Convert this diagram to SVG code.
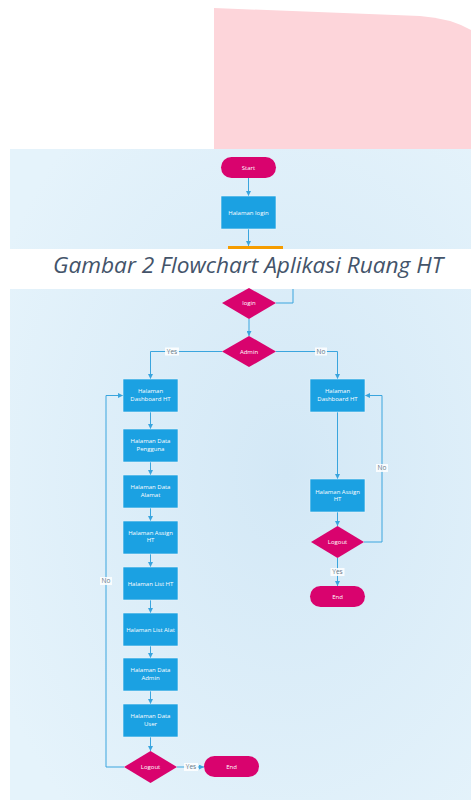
<svg xmlns="http://www.w3.org/2000/svg" width="471" height="800" viewBox="0 0 471 800">
<defs>
<radialGradient id="bg" cx="0.6" cy="0.5" r="0.7">
<stop offset="0" stop-color="#d3e8f6"/>
<stop offset="1" stop-color="#e5f3fb"/>
</radialGradient>
<marker id="ah" viewBox="0 0 10 10" refX="10" refY="5" markerWidth="5" markerHeight="5" orient="auto" markerUnits="userSpaceOnUse">
<path d="M0,0 L10,5 L0,10 z" fill="#3aa5de"/>
</marker>
<style>
.term{fill:#d9036e}
.proc{fill:#1ba1e2;stroke:#e9f5fc;stroke-width:0.6}
.dec{fill:#d9036e}
.t{font-family:"Open Sans","Liberation Sans",sans-serif;font-size:6px;fill:#ffffff;text-anchor:middle}
.c{fill:none;stroke:#3aa5de;stroke-width:1}
.lb{fill:#ffffff;opacity:0.85}
.lt{font-family:"Open Sans","Liberation Sans",sans-serif;font-size:6.5px;fill:#6a7a88;text-anchor:middle}
.cap{font-family:"Open Sans","Liberation Sans",sans-serif;font-style:italic;font-size:21px;fill:#44546a}
</style>
</defs>
<rect width="471" height="800" fill="#ffffff"/>
<path d="M214,8 L420,16 Q450,18 471,30 L471,149 L214,149 z" fill="#fdd5da"/>
<rect x="10" y="149" width="461" height="651" fill="url(#bg)"/>

<g id="connectors">
<path class="c" d="M248.5,178 V196" marker-end="url(#ah)"/>
<path class="c" d="M248.5,229 V246" marker-end="url(#ah)"/>
<path class="c" d="M293,289 V303 H276"/>
<path class="c" d="M249,319 V336" marker-end="url(#ah)"/>
<path class="c" d="M222,351.5 H150.5 V379" marker-end="url(#ah)"/>
<path class="c" d="M276,351.5 H337.5 V379" marker-end="url(#ah)"/>
<path class="c" d="M150.5,412 V429" marker-end="url(#ah)"/>
<path class="c" d="M150.5,462 V475" marker-end="url(#ah)"/>
<path class="c" d="M150.5,508 V521" marker-end="url(#ah)"/>
<path class="c" d="M150.5,554 V567" marker-end="url(#ah)"/>
<path class="c" d="M150.5,600 V613" marker-end="url(#ah)"/>
<path class="c" d="M150.5,646 V658" marker-end="url(#ah)"/>
<path class="c" d="M150.5,691 V704" marker-end="url(#ah)"/>
<path class="c" d="M150.5,737 V751" marker-end="url(#ah)"/>
<path class="c" d="M177,767 H204" marker-end="url(#ah)"/>
<path class="c" d="M124,767 H106 V395.5 H123" marker-end="url(#ah)"/>
<path class="c" d="M337.5,412 V479" marker-end="url(#ah)"/>
<path class="c" d="M337.5,512 V526" marker-end="url(#ah)"/>
<path class="c" d="M337.5,558 V586" marker-end="url(#ah)"/>
<path class="c" d="M364,542 H382 V395.5 H365" marker-end="url(#ah)"/>
<rect class="lb" x="165" y="347.5" width="14" height="8"/>
<text class="lt" x="172" y="353.8">Yes</text>
<rect class="lb" x="315" y="347.5" width="12" height="8"/>
<text class="lt" x="321" y="353.8">No</text>
<rect class="lb" x="100" y="577" width="12" height="8"/>
<text class="lt" x="106" y="583.3">No</text>
<rect class="lb" x="184" y="763" width="14" height="8"/>
<text class="lt" x="191" y="769.3">Yes</text>
<rect class="lb" x="376" y="464" width="12" height="8"/>
<text class="lt" x="382" y="470.3">No</text>
<rect class="lb" x="330.5" y="568" width="14" height="8"/>
<text class="lt" x="337.5" y="574.3">Yes</text>
</g>

<g id="start"><rect class="term" x="221" y="157" width="55" height="21" rx="10.5"/><text class="t" x="248.5" y="169.5">Start</text></g>
<g id="login-page"><rect class="proc" x="221" y="196" width="55" height="33"/><text class="t" x="248.5" y="214.5">Halaman login</text></g>
<g id="orange"><rect x="228" y="246" width="55" height="10" fill="#f59c00"/></g>

<g id="caption"><rect x="10" y="249" width="461" height="40" fill="#ffffff"/><text class="cap" x="53" y="273" textLength="390" lengthAdjust="spacingAndGlyphs">Gambar 2 Flowchart Aplikasi Ruang HT</text></g>

<g id="login"><path class="dec" d="M249,288 L276,303 L249,319 L222,303 z"/><text class="t" x="249" y="305">login</text></g>
<g id="admin"><path class="dec" d="M249,336 L276,351.5 L249,367 L222,351.5 z"/><text class="t" x="249" y="353.5">Admin</text></g>

<g id="l-dashboard"><rect class="proc" x="123" y="379" width="55" height="33"/><text class="t" x="150.5" y="393">Halaman</text><text class="t" x="150.5" y="400.5">Dashboard HT</text></g>
<g id="l-pengguna"><rect class="proc" x="123" y="429" width="55" height="33"/><text class="t" x="150.5" y="443">Halaman Data</text><text class="t" x="150.5" y="450.5">Pengguna</text></g>
<g id="l-alamat"><rect class="proc" x="123" y="475" width="55" height="33"/><text class="t" x="150.5" y="489">Halaman Data</text><text class="t" x="150.5" y="496.5">Alamat</text></g>
<g id="l-assign"><rect class="proc" x="123" y="521" width="55" height="33"/><text class="t" x="150.5" y="535">Halaman Assign</text><text class="t" x="150.5" y="542">HT</text></g>
<g id="l-listht"><rect class="proc" x="123" y="567" width="55" height="33"/><text class="t" x="150.5" y="585.5">Halaman List HT</text></g>
<g id="l-listalat"><rect class="proc" x="123" y="613" width="55" height="33"/><text class="t" x="150.5" y="631.5">Halaman List Alat</text></g>
<g id="l-admin"><rect class="proc" x="123" y="658" width="55" height="33"/><text class="t" x="150.5" y="672">Halaman Data</text><text class="t" x="150.5" y="680">Admin</text></g>
<g id="l-user"><rect class="proc" x="123" y="704" width="55" height="33"/><text class="t" x="150.5" y="718">Halaman Data</text><text class="t" x="150.5" y="726">User</text></g>
<g id="l-logout"><path class="dec" d="M150.5,751 L177,767 L150.5,783 L124,767 z"/><text class="t" x="150.5" y="769">Logout</text></g>
<g id="l-end"><rect class="term" x="204" y="756" width="55" height="21" rx="10.5"/><text class="t" x="231.5" y="769">End</text></g>

<g id="r-dashboard"><rect class="proc" x="310" y="379" width="55" height="33"/><text class="t" x="337.5" y="393">Halaman</text><text class="t" x="337.5" y="400.5">Dashboard HT</text></g>
<g id="r-assign"><rect class="proc" x="310" y="479" width="55" height="33"/><text class="t" x="337.5" y="493.5">Halaman Assign</text><text class="t" x="337.5" y="500.5">HT</text></g>
<g id="r-logout"><path class="dec" d="M337.5,526 L364,542 L337.5,558 L311,542 z"/><text class="t" x="337.5" y="544">Logout</text></g>
<g id="r-end"><rect class="term" x="310" y="586" width="55" height="21" rx="10.5"/><text class="t" x="337.5" y="598.5">End</text></g>
</svg>
